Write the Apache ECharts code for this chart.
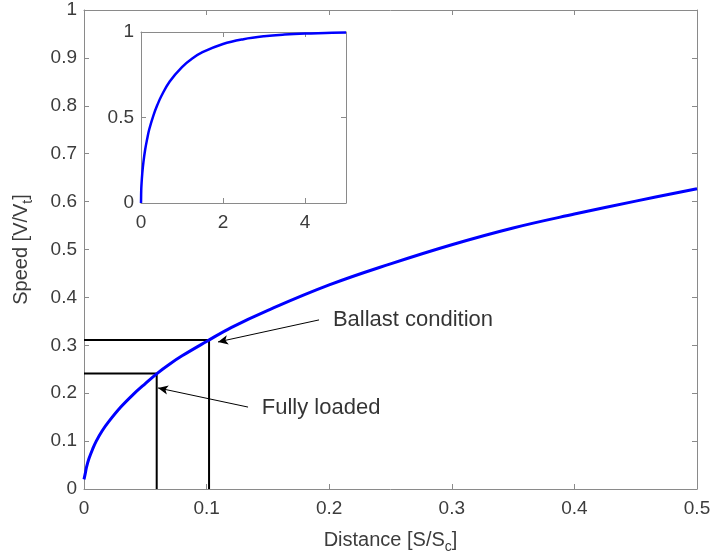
<!DOCTYPE html>
<html lang="en">
<head>
	<meta charset="UTF-8">
	<title>speed-distance</title>
	<script src="https://cdn.jsdelivr.net/npm/echarts@6/dist/echarts.min.js"></script>
	<style>
		html, body { margin: 0; padding: 0; background: #fff; }
	</style>
</head>
<body>
	<div id="container" style="width:714px;height:560px;"></div>

	<script>
		// main curve, distance S/Sc vs speed V/Vt
		var mainX = [0, 0.001, 0.002, 0.004, 0.007, 0.01, 0.015, 0.02, 0.03, 0.04, 0.05, 0.06, 0.07, 0.08, 0.1, 0.12, 0.15, 0.2, 0.25, 0.3, 0.35, 0.4, 0.45, 0.5];
		var mainY = [0.02, 0.032, 0.045, 0.063, 0.083, 0.1, 0.122, 0.14, 0.171, 0.197, 0.22, 0.242, 0.261, 0.278, 0.308, 0.337, 0.373, 0.426, 0.47, 0.51, 0.545, 0.574, 0.601, 0.627];

		// inset, full range 0..5
		var insetX = [0, 0.005, 0.01, 0.03, 0.06, 0.1, 0.15, 0.2, 0.3, 0.4, 0.5, 0.7, 1, 1.25, 1.5, 2, 2.5, 3, 3.5, 4, 4.5, 5];
		var insetY = [0, 0.07, 0.1, 0.17, 0.24, 0.31, 0.374, 0.43, 0.51, 0.574, 0.627, 0.711, 0.795, 0.845, 0.882, 0.93, 0.958, 0.975, 0.985, 0.991, 0.994, 0.997];

		// operating points
		var fullyLoaded = [0.0593, 0.241];
		var ballast = [0.102, 0.311];

		var axisGray = '#8a8a8a';
		var textGray = '#3c3c3c';

		function pairs(xs, ys) {
			var out = [];
			for (var i = 0; i < xs.length; i++) out.push([xs[i], ys[i]]);
			return out;
		}
		function guide(p) {
			return [[0, p[1]], [p[0], p[1]], [p[0], 0]];
		}

		var richName = {
			n: { fontSize: 20, color: textGray, fontFamily: 'Liberation Sans' },
			s: { fontSize: 14, color: textGray, fontFamily: 'Liberation Sans', padding: [14, 0, 0, 0] }
		};

		function frameAxis(grid, pos, min, max, interval, labels, extra) {
			var onTicks = Math.abs(max / interval - Math.round(max / interval)) < 1e-9;
			var a = {
				type: 'value',
				gridIndex: grid,
				position: pos,
				min: min,
				max: max,
				interval: interval,
				axisLine: { show: true, onZero: false, lineStyle: { color: axisGray, width: 1 } },
				axisTick: { show: true, inside: true, length: 5, lineStyle: { color: axisGray } },
				axisLabel: {
					show: labels,
					color: textGray,
					fontSize: 19,
					fontFamily: 'Liberation Sans',
					margin: (pos == 'bottom' || pos == 'top') ? 10 : 7,
					showMaxLabel: labels && onTicks
				},
				splitLine: { show: false }
			};
			for (var k in extra) a[k] = extra[k];
			return a;
		}

		var myChart = echarts.init(document.getElementById('container'));

		var option = {
			backgroundColor: '#fff',
			animation: false,
			grid: [
				{ left: 84, right: 17, top: 10, bottom: 71 },
				{ left: 141, top: 32, width: 205, height: 171, show: true, backgroundColor: '#fff', borderWidth: 0, z: 5 }
			],
			xAxis: [
				frameAxis(0, 'bottom', 0, 0.5, 0.1, true, {
					name: '{n|Distance [S/S}{s|c}{n|]}',
					nameLocation: 'middle',
					nameGap: 37,
					nameTextStyle: { rich: richName }
				}),
				frameAxis(0, 'top', 0, 0.5, 0.1, false, {}),
				frameAxis(1, 'bottom', 0, 5, 2, true, { z: 6 }),
				frameAxis(1, 'top', 0, 5, 2, false, { z: 6 })
			],
			yAxis: [
				frameAxis(0, 'left', 0, 1, 0.1, true, {
					name: '{n|Speed [V/V}{s|t}{n|]}',
					nameLocation: 'middle',
					nameGap: 49,
					nameTextStyle: { rich: richName }
				}),
				frameAxis(0, 'right', 0, 1, 0.1, false, {}),
				frameAxis(1, 'left', 0, 1, 0.5, true, { z: 6 }),
				frameAxis(1, 'right', 0, 1, 0.5, false, { z: 6 })
			],
			series: [
				{
					name: 'speed',
					type: 'line',
					xAxisIndex: 0,
					yAxisIndex: 0,
					data: pairs(mainX, mainY),
					smooth: 0.4,
					showSymbol: false,
					lineStyle: { color: '#0000ff', width: 3 },
					z: 3
				},
				{
					name: 'fully loaded',
					type: 'line',
					xAxisIndex: 0,
					yAxisIndex: 0,
					data: guide(fullyLoaded),
					showSymbol: false,
					lineStyle: { color: '#000', width: 2 },
					z: 2
				},
				{
					name: 'ballast',
					type: 'line',
					xAxisIndex: 0,
					yAxisIndex: 0,
					data: guide(ballast),
					showSymbol: false,
					lineStyle: { color: '#000', width: 2 },
					z: 2,
					markLine: {
						silent: true,
						symbol: ['none', 'arrow'],
						symbolSize: [7, 10],
						lineStyle: { color: '#000', width: 1, type: 'solid' },
						label: { show: false },
						data: [
							[{ coord: [0.1917, 0.353] }, { coord: [0.1093, 0.307] }],
							[{ coord: [0.1338, 0.171] }, { coord: [0.0604, 0.211] }]
						]
					}
				},
				{
					name: 'notes',
					type: 'scatter',
					xAxisIndex: 0,
					yAxisIndex: 0,
					symbolSize: 0,
					silent: true,
					data: [
						[0.203, 0.353, 'Ballast condition'],
						[0.145, 0.169, 'Fully loaded']
					],
					label: {
						show: true,
						position: 'right',
						distance: 0,
						color: '#000',
						fontSize: 22,
						fontFamily: 'Liberation Sans',
						formatter: function (p) { return p.value[2]; }
					}
				},
				{
					name: 'inset',
					type: 'line',
					xAxisIndex: 2,
					yAxisIndex: 2,
					data: pairs(insetX, insetY),
					smooth: 0.4,
					showSymbol: false,
					lineStyle: { color: '#0000ff', width: 2.5 },
					z: 7
				}
			]
		};

		myChart.setOption(option);
	</script>
</body>
</html>
